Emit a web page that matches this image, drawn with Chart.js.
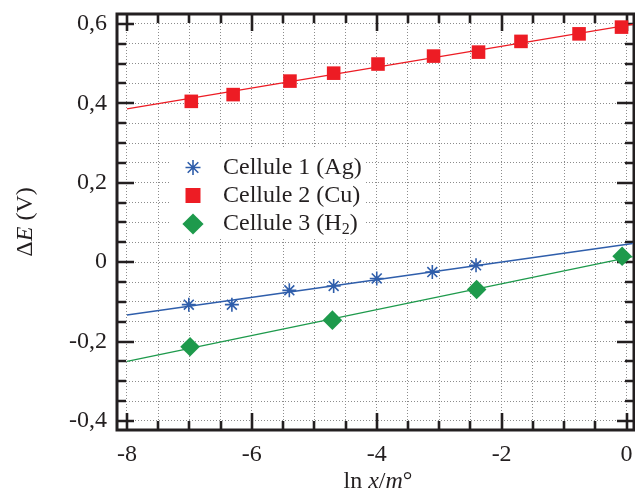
<!DOCTYPE html>
<html>
<head>
<meta charset="utf-8">
<script src="https://cdn.jsdelivr.net/npm/chart.js@4.4.0/dist/chart.umd.min.js"></script>
<style>
  html, body { margin: 0; padding: 0; background: #fff; }
  canvas { display: block; }
</style>
</head>
<body>
<canvas id="cells" width="635" height="494"></canvas>
<script>
const agX = [-7.01, -6.32, -5.40, -4.69, -4.00, -3.11, -2.41];
const agY = [-0.107, -0.107, -0.071, -0.060, -0.041, -0.025, -0.008];
const cuX = [-6.97, -6.30, -5.39, -4.69, -3.98, -3.09, -2.37, -1.69, -0.76, -0.08];
const cuY = [0.405, 0.422, 0.456, 0.476, 0.499, 0.519, 0.529, 0.556, 0.575, 0.592];
const h2X = [-6.99, -4.71, -2.40, -0.07];
const h2Y = [-0.213, -0.146, -0.069, 0.015];

// fitted lines, end points
const fitX = [-8, 0.1];
const agFitY = [-0.133, 0.047];
const cuFitY = [0.386, 0.599];
const h2FitY = [-0.250, 0.014];

const seriesNames = ['Cellule 1 (Ag)', 'Cellule 2 (Cu)', 'Cellule 3 (H', '2', ')'];

const xTickValues = [-8, -6, -4, -2, 0];
const xTickLabels = ['-8', '-6', '-4', '-2', '0'];
const yTickValues = [-0.4, -0.2, 0, 0.2, 0.4, 0.6];
const yTickLabels = ['-0,4', '-0,2', '0', '0,2', '0,4', '0,6'];

const BLUE = '#2f5eab';
const RED = '#ed1c24';
const GREEN = '#1e9a4c';
const INK = '#231f20';
const SERIF = '"Liberation Serif", "Times New Roman", serif';

function pts(xs, ys) {
  return xs.map((x, i) => ({ x: x, y: ys[i] }));
}
function steps(from, to, step) {
  const out = [];
  const n = Math.round((to - from) / step);
  for (let i = 0; i <= n; i++) out.push(+(from + i * step).toFixed(4));
  return out;
}
const xGrid = steps(-8, 0, 0.5);
const yGrid = steps(-0.4, 0.6, 0.05);

function labelFor(v, values, labels) {
  const i = values.findIndex(t => Math.abs(t - v) < 1e-6);
  return i >= 0 ? labels[i] : '';
}
function isMajor(v, values) {
  return values.some(t => Math.abs(t - v) < 1e-6);
}

// frame with inward ticks on all four sides, titles and legend
const framePlugin = {
  id: 'frame',
  beforeDatasetsDraw(chart) {
    const c = chart.ctx, a = chart.chartArea;
    const xs = chart.scales.x, ys = chart.scales.y;
    c.save();
    c.strokeStyle = INK;
    c.lineWidth = 2.6;
    c.beginPath();
    xGrid.forEach(v => {
      const px = Math.round(xs.getPixelForValue(v));
      const len = isMajor(v, xTickValues) ? 17 : 9;
      c.moveTo(px, a.top); c.lineTo(px, a.top + len);
      c.moveTo(px, a.bottom); c.lineTo(px, a.bottom - len);
    });
    yGrid.forEach(v => {
      const py = Math.round(ys.getPixelForValue(v));
      const len = isMajor(v, yTickValues) ? 17 : 9;
      c.moveTo(a.left, py); c.lineTo(a.left + len, py);
      c.moveTo(a.right, py); c.lineTo(a.right - len, py);
    });
    c.stroke();
    c.lineWidth = 3;
    c.strokeRect(a.left, a.top, a.right - a.left, a.bottom - a.top);
    c.restore();
  },
  afterDraw(chart) {
    const c = chart.ctx;
    c.save();
    c.fillStyle = INK;
    c.textBaseline = 'alphabetic';

    // x title: ln x/m°
    const parts = [['ln ', ''], ['x', 'italic '], ['/', ''], ['m', 'italic '], ['°', '']];
    let w = 0;
    parts.forEach(p => { c.font = p[1] + '24px ' + SERIF; w += c.measureText(p[0]).width; });
    let x = 378 - w / 2;
    parts.forEach(p => {
      c.font = p[1] + '24px ' + SERIF;
      c.fillText(p[0], x, 488);
      x += c.measureText(p[0]).width;
    });

    // y title: ΔE (V)
    const yparts = [['Δ', ''], ['E', 'italic '], [' (V)', '']];
    c.translate(32, 222);
    c.rotate(-Math.PI / 2);
    w = 0;
    yparts.forEach(p => { c.font = p[1] + '24px ' + SERIF; w += c.measureText(p[0]).width; });
    x = -w / 2;
    yparts.forEach(p => {
      c.font = p[1] + '24px ' + SERIF;
      c.fillText(p[0], x, 0);
      x += c.measureText(p[0]).width;
    });
    c.restore();

    // legend box
    c.save();
    c.fillStyle = '#fff';
    c.fillRect(171, 148, 195, 91);
    const rows = [
      { style: 'star', color: BLUE, r: 7.5, y: 167.5 },
      { style: 'rect', color: RED, r: 10.6, y: 195.5 },
      { style: 'rectRot', color: GREEN, r: 10.6, y: 224 }
    ];
    rows.forEach(row => {
      c.fillStyle = row.color;
      c.strokeStyle = row.color;
      c.lineWidth = 1.6;
      Chart.helpers.drawPoint(c, { pointStyle: row.style, radius: row.r, rotation: 0, borderWidth: row.style === 'star' ? 1.6 : 0 }, 193, row.y);
    });
    c.fillStyle = INK;
    c.font = '24px ' + SERIF;
    c.textBaseline = 'middle';
    c.fillText(seriesNames[0], 223, 167.5);
    c.fillText(seriesNames[1], 223, 195.5);
    x = 223;
    c.fillText(seriesNames[2], x, 224);
    x += c.measureText(seriesNames[2]).width;
    c.font = '16px ' + SERIF;
    c.fillText(seriesNames[3], x, 230);
    x += c.measureText(seriesNames[3]).width;
    c.font = '24px ' + SERIF;
    c.fillText(seriesNames[4], x, 224);
    c.restore();
  }
};

function fitLine(ys, color) {
  return {
    type: 'line',
    data: pts(fitX, ys),
    borderColor: color,
    borderWidth: 1.4,
    pointRadius: 0,
    fill: false,
    order: 2
  };
}

new Chart(document.getElementById('cells'), {
  type: 'scatter',
  data: {
    datasets: [
      fitLine(agFitY, BLUE),
      fitLine(cuFitY, RED),
      fitLine(h2FitY, GREEN),
      {
        label: seriesNames[0],
        data: pts(agX, agY),
        pointStyle: 'star',
        pointRadius: 7,
        borderColor: BLUE,
        backgroundColor: BLUE,
        pointBorderWidth: 1.6,
        order: 1
      },
      {
        label: seriesNames[1],
        data: pts(cuX, cuY),
        pointStyle: 'rect',
        pointRadius: 9.6,
        borderColor: RED,
        backgroundColor: RED,
        pointBorderWidth: 0,
        order: 1
      },
      {
        label: 'Cellule 3 (H2)',
        data: pts(h2X, h2Y),
        pointStyle: 'rectRot',
        pointRadius: 9.8,
        borderColor: GREEN,
        backgroundColor: GREEN,
        pointBorderWidth: 0,
        order: 1
      }
    ]
  },
  options: {
    responsive: false,
    animation: false,
    events: [],
    layout: { autoPadding: false, padding: { top: 14, right: 1, left: 0, bottom: 0 } },
    plugins: {
      legend: { display: false },
      tooltip: { enabled: false }
    },
    scales: {
      x: {
        type: 'linear',
        min: -8.16,
        max: 0.12,
        afterBuildTicks: s => { s.ticks = xGrid.map(v => ({ value: v })); },
        afterFit: s => { s.height = 64; s.paddingLeft = 0; s.paddingRight = 0; },
        ticks: {
          autoSkip: false,
          maxRotation: 0,
          padding: 10,
          color: INK,
          font: { family: SERIF, size: 24 },
          callback: v => labelFor(v, xTickValues, xTickLabels)
        },
        grid: { color: '#8c8c8c', lineWidth: 1, drawTicks: false },
        border: { display: false, dash: [1, 2] }
      },
      y: {
        type: 'linear',
        min: -0.4227,
        max: 0.625,
        afterBuildTicks: s => { s.ticks = yGrid.map(v => ({ value: v })); },
        afterFit: s => { s.width = 117; s.paddingTop = 0; s.paddingBottom = 0; },
        ticks: {
          autoSkip: false,
          padding: 10,
          color: INK,
          font: { family: SERIF, size: 24 },
          callback: v => labelFor(v, yTickValues, yTickLabels)
        },
        grid: { color: '#8c8c8c', lineWidth: 1, drawTicks: false },
        border: { display: false, dash: [1, 2] }
      }
    }
  },
  plugins: [framePlugin]
});
</script>
</body>
</html>
